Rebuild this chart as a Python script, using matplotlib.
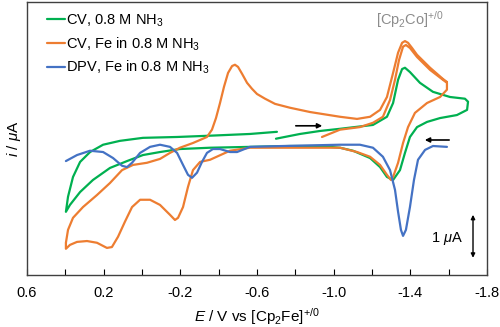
import numpy as np
import matplotlib
matplotlib.use('Agg')
from matplotlib import pyplot as plt
from matplotlib.ticker import FixedLocator, FormatStrFormatter

plt.rcParams['font.family'] = ['Liberation Sans', 'DejaVu Sans']
plt.rcParams['mathtext.fontset'] = 'custom'
plt.rcParams['mathtext.rm'] = 'Liberation Sans'
plt.rcParams['mathtext.it'] = 'Liberation Sans:italic'
plt.rcParams['axes.unicode_minus'] = False

# potentials in V vs Fc, currents in uA (offset baseline)
cv_blank_E = [-0.699, -0.824, -0.929, -1.033, -1.205, -1.278, -1.310, -1.336, -1.357, -1.372,
              -1.398, -1.450, -1.518, -1.607, -1.685, -1.701, -1.696, -1.643, -1.555, -1.487,
              -1.435, -1.398, -1.372, -1.346, -1.310, -1.278, -1.242, -1.190, -1.101, -1.033,
              -0.929, -0.772, -0.563, -0.355, -0.198, -0.094, -0.005, 0.078, 0.167, 0.256,
              0.323, 0.376, 0.397, 0.386, 0.360, 0.323, 0.271, 0.203, 0.115, -0.005,
              -0.183, -0.355, -0.563, -0.704]
cv_blank_I = [0.26, 0.37, 0.44, 0.49, 0.58, 0.77, 1.09, 1.63, 1.88, 1.91,
              1.81, 1.56, 1.35, 1.23, 1.19, 1.12, 0.93, 0.81, 0.74, 0.65,
              0.53, 0.30, -0.07, -0.47, -0.70, -0.63, -0.40, -0.19, -0.02, 0.05,
              0.09, 0.09, 0.07, 0.05, 0.02, -0.05, -0.12, -0.26, -0.42, -0.70,
              -0.98, -1.28, -1.44, -1.09, -0.63, -0.28, -0.05, 0.12, 0.21, 0.28,
              0.30, 0.33, 0.37, 0.42]

cv_fe_E = [-0.939, -1.033, -1.137, -1.205, -1.257, -1.294, -1.320, -1.341, -1.362, -1.377,
           -1.398, -1.435, -1.503, -1.570, -1.591, -1.591, -1.555, -1.487, -1.424, -1.388,
           -1.362, -1.336, -1.310, -1.299, -1.278, -1.242, -1.190, -1.122, -1.033, -0.824,
           -0.563, -0.459, -0.355, -0.303, -0.266, -0.240, -0.214, -0.188, -0.172, -0.146,
           -0.094, -0.042, 0.010, 0.052, 0.089, 0.125, 0.157, 0.183, 0.235, 0.287,
           0.339, 0.376, 0.397, 0.397, 0.386, 0.360, 0.308, 0.235, 0.167, 0.104,
           0.047, -0.026, -0.094, -0.146, -0.198, -0.266, -0.339, -0.365, -0.386, -0.407,
           -0.428, -0.449, -0.470, -0.485, -0.501, -0.522, -0.548, -0.574, -0.600, -0.642,
           -0.694, -0.772, -0.877, -1.033, -1.122, -1.190, -1.242, -1.278, -1.310, -1.336,
           -1.357, -1.372, -1.388, -1.409, -1.435, -1.503, -1.570, -1.591]
cv_fe_I = [0.30, 0.47, 0.53, 0.63, 0.77, 1.16, 1.63, 2.09, 2.40, 2.44,
           2.37, 2.16, 1.86, 1.63, 1.56, 1.40, 1.23, 1.09, 0.86, 0.53,
           0.16, -0.30, -0.63, -0.70, -0.58, -0.35, -0.16, -0.05, 0.05, 0.05,
           0.05, -0.02, -0.23, -0.28, -0.47, -0.86, -1.33, -1.58, -1.63, -1.51,
           -1.28, -1.16, -1.16, -1.33, -1.67, -2.02, -2.26, -2.28, -2.16, -2.12,
           -2.14, -2.21, -2.30, -2.16, -1.86, -1.58, -1.33, -1.05, -0.77, -0.47,
           -0.35, -0.30, -0.21, -0.07, 0.05, 0.16, 0.30, 0.47, 0.74, 1.09,
           1.47, 1.79, 1.95, 1.98, 1.93, 1.77, 1.56, 1.42, 1.30, 1.19,
           1.07, 0.98, 0.88, 0.77, 0.72, 0.77, 0.93, 1.23, 1.79, 2.26,
           2.49, 2.53, 2.49, 2.37, 2.21, 1.91, 1.65, 1.58]

dpv_E = [0.397, 0.339, 0.271, 0.203, 0.151, 0.104, 0.078, 0.052, 0.010, -0.042,
         -0.094, -0.146, -0.183, -0.214, -0.240, -0.261, -0.287, -0.313, -0.339, -0.370,
         -0.407, -0.459, -0.496, -0.563, -0.736, -1.033, -1.137, -1.205, -1.257, -1.294,
         -1.320, -1.336, -1.351, -1.362, -1.377, -1.398, -1.419, -1.440, -1.477, -1.518,
         -1.591]
dpv_I = [-0.26, -0.12, -0.02, -0.05, -0.19, -0.37, -0.40, -0.30, -0.07, 0.07,
         0.12, 0.07, -0.07, -0.35, -0.58, -0.65, -0.53, -0.28, -0.07, 0.02,
         0.02, -0.05, -0.05, 0.07, 0.09, 0.12, 0.12, 0.05, -0.16, -0.47,
         -0.93, -1.44, -1.86, -2.00, -1.86, -1.33, -0.70, -0.23, 0.00, 0.09,
         0.07]

x_labels = [0.6, 0.2, -0.2, -0.6, -1.0, -1.4, -1.8]
x_minor = [0.4, 0.0, -0.4, -0.8, -1.2, -1.6]

green = '#00B050'
orange = '#ED7D31'
blue = '#4472C4'

fig = plt.figure(figsize=(5, 3.27), dpi=100)
ax = fig.add_axes([0.054, 0.159, 0.92, 0.835])

kw = dict(lw=1.6, solid_joinstyle='round', solid_capstyle='round')
ax.plot(cv_blank_E, cv_blank_I, color=green, label='CV, 0.8 M NH$_3$', **kw)
ax.plot(cv_fe_E, cv_fe_I, color=orange, label='CV, Fe in 0.8 M NH$_3$', **kw)
ax.plot(dpv_E, dpv_I, color=blue, label='DPV, Fe in 0.8 M NH$_3$', **kw)

ax.set_xlim(0.6, -1.8)
ax.set_ylim(-2.91, 3.44)
ax.xaxis.set_major_locator(FixedLocator(x_labels))
ax.xaxis.set_minor_locator(FixedLocator(x_minor))
ax.xaxis.set_major_formatter(FormatStrFormatter('%.1f'))
ax.tick_params(axis='x', which='both', direction='in', length=4, width=0.8, labelsize=10.5, pad=8)
ax.set_yticks([])
for s in ax.spines.values():
    s.set_linewidth(1.0)
    s.set_color('#404040')

ax.set_xlabel('$E$ / V vs [Cp$_2$Fe]$^{+/0}$', fontsize=11, labelpad=4)
ax.set_ylabel('$i$ / $\\mu$A', fontsize=11, labelpad=3)

# scan direction arrows
ax.annotate('', xy=(-0.955, 0.56), xytext=(-0.788, 0.56),
            arrowprops=dict(arrowstyle='-|>', color='black', lw=1.2, mutation_scale=7))
ax.annotate('', xy=(-1.461, 0.23), xytext=(-1.617, 0.23),
            arrowprops=dict(arrowstyle='-|>', color='black', lw=1.2, mutation_scale=7))

# scale bar
ax.annotate('', xy=(-1.727, -1.51), xytext=(-1.727, -2.51),
            arrowprops=dict(arrowstyle='<|-|>', color='black', lw=1.0, mutation_scale=6,
                            shrinkA=0, shrinkB=0))
ax.text(-1.675, -2.05, '1 $\\mu$A', ha='right', va='center', fontsize=10.5)

ax.text(-1.398, 3.02, '[Cp$_2$Co]$^{+/0}$', ha='center', va='center', fontsize=10.5, color='#8C8C8C')

ax.legend(loc='upper left', bbox_to_anchor=(0.022, 1.0), frameon=False, fontsize=10.5,
          handlelength=1.2, handletextpad=0.05, labelspacing=0.45, borderaxespad=0.3)

fig.savefig('out.png', dpi=100)
